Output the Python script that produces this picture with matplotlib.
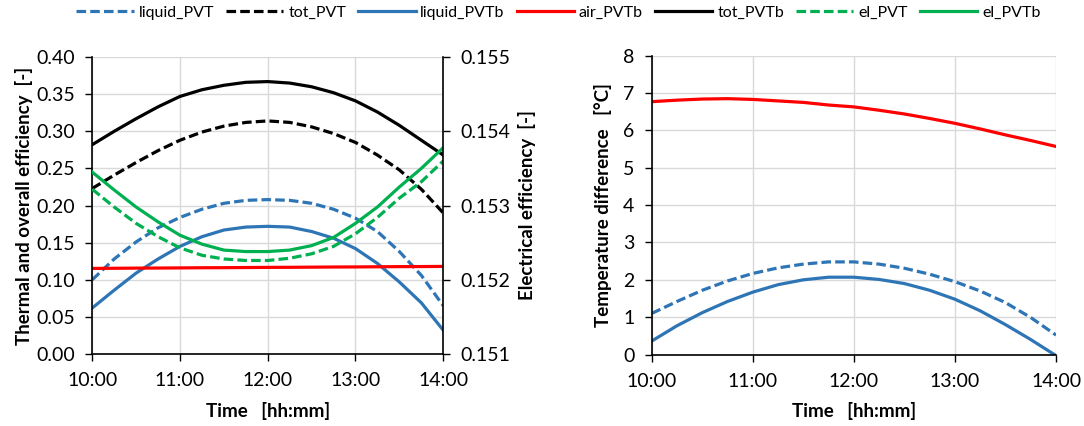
import numpy as np
import matplotlib.pyplot as plt
from matplotlib.ticker import FuncFormatter, MultipleLocator

plt.rcParams['font.family'] = ['Lato', 'DejaVu Sans']

# time in hours, every 15 min
hours = [10.0, 10.25, 10.5, 10.75, 11.0, 11.25, 11.5, 11.75, 12.0,
         12.25, 12.5, 12.75, 13.0, 13.25, 13.5, 13.75, 14.0]

# left panel, thermal / overall efficiency [-]
liquid_pvt = [0.100, 0.128, 0.151, 0.170, 0.184, 0.195, 0.203, 0.207, 0.208,
              0.207, 0.203, 0.195, 0.183, 0.165, 0.138, 0.106, 0.065]
tot_pvt = [0.223, 0.241, 0.258, 0.274, 0.288, 0.299, 0.307, 0.312, 0.314,
           0.312, 0.306, 0.297, 0.285, 0.268, 0.248, 0.222, 0.190]
liquid_pvtb = [0.062, 0.086, 0.109, 0.128, 0.145, 0.158, 0.167, 0.171, 0.172,
               0.171, 0.165, 0.156, 0.142, 0.122, 0.097, 0.069, 0.032]
air_pvtb = [0.1153, 0.1155, 0.1157, 0.1158, 0.1160, 0.1162, 0.1163, 0.1165, 0.1167,
            0.1168, 0.1170, 0.1172, 0.1173, 0.1175, 0.1177, 0.1178, 0.1180]
tot_pvtb = [0.282, 0.300, 0.317, 0.333, 0.347, 0.356, 0.362, 0.366, 0.367,
            0.365, 0.360, 0.352, 0.341, 0.326, 0.308, 0.288, 0.268]

# left panel, electrical efficiency [-]
el_pvt = [0.15322, 0.15298, 0.15276, 0.15258, 0.15243, 0.15233, 0.15228, 0.15226, 0.15226,
          0.15229, 0.15235, 0.15245, 0.15262, 0.15284, 0.15310, 0.15332, 0.15360]
el_pvtb = [0.15345, 0.15321, 0.15298, 0.15278, 0.15260, 0.15248, 0.15240, 0.15238, 0.15238,
           0.15240, 0.15246, 0.15257, 0.15276, 0.15298, 0.15325, 0.15350, 0.15378]

# right panel, temperature difference [°C]
dt_air_pvtb = [6.77, 6.81, 6.84, 6.85, 6.83, 6.79, 6.75, 6.68, 6.63,
               6.54, 6.44, 6.32, 6.19, 6.04, 5.88, 5.73, 5.57]
dt_liquid_pvt = [1.10, 1.42, 1.72, 1.97, 2.17, 2.32, 2.42, 2.48, 2.48,
                 2.42, 2.31, 2.15, 1.95, 1.70, 1.39, 0.99, 0.52]
dt_liquid_pvtb = [0.36, 0.77, 1.12, 1.42, 1.67, 1.87, 2.00, 2.07, 2.07,
                  2.01, 1.90, 1.72, 1.48, 1.17, 0.80, 0.40, -0.03]

BLUE = '#2E75B6'
RED = '#FF0000'
GREEN = '#00B050'
GRID = '#D9D9D9'
DASH = (0, (3.0, 1.3))
TICK_FS = 14
LABEL_FS = 13.5

def hhmm(x, _):
    return f'{int(round(x))}:00'

def style(ax):
    ax.set_xlim(10, 14)
    ax.xaxis.set_major_locator(MultipleLocator(1))
    ax.xaxis.set_major_formatter(FuncFormatter(hhmm))
    ax.grid(True, color=GRID, lw=1.0)
    ax.set_axisbelow(True)
    for s in ('top', 'right'):
        ax.spines[s].set_visible(False)
    for s in ('left', 'bottom'):
        ax.spines[s].set_linewidth(1.2)
    ax.tick_params(direction='out', length=5, width=1.0, labelsize=TICK_FS, pad=7.5)
    ax.tick_params(axis='x', pad=8)
    ax.set_xlabel('Time   [hh:mm]', fontsize=LABEL_FS, fontweight='bold', labelpad=9)

fig = plt.figure(figsize=(10.84, 4.26), dpi=100)
ax1 = fig.add_axes([0.0851, 0.169, 0.3238, 0.697])
ax2 = ax1.twinx()
ax3 = fig.add_axes([0.6012, 0.1678, 0.373, 0.7014])

lw = 2.3
l1, = ax1.plot(hours, liquid_pvt, color=BLUE, lw=lw, ls=DASH, label='liquid_PVT')
l2, = ax1.plot(hours, tot_pvt, color='black', lw=lw, ls=DASH, label='tot_PVT')
l3, = ax1.plot(hours, liquid_pvtb, color=BLUE, lw=lw, label='liquid_PVTb')
l4, = ax1.plot(hours, air_pvtb, color=RED, lw=lw, label='air_PVTb')
l5, = ax1.plot(hours, tot_pvtb, color='black', lw=lw, label='tot_PVTb')
l6, = ax2.plot(hours, el_pvt, color=GREEN, lw=lw, ls=DASH, label='el_PVT')
l7, = ax2.plot(hours, el_pvtb, color=GREEN, lw=lw, label='el_PVTb')

style(ax1)
ax1.set_ylim(0, 0.40)
ax1.yaxis.set_major_locator(MultipleLocator(0.05))
ax1.yaxis.set_major_formatter(FuncFormatter(lambda y, _: f'{y:.2f}'))
ax1.set_ylabel('Thermal and overall efficiency  [-]', fontsize=LABEL_FS,
               fontweight='bold', labelpad=2)

ax2.set_ylim(0.151, 0.155)
ax2.yaxis.set_major_locator(MultipleLocator(0.001))
ax2.yaxis.set_major_formatter(FuncFormatter(lambda y, _: f'{y:.3f}'))
for s in ('top', 'left', 'bottom'):
    ax2.spines[s].set_visible(False)
ax2.spines['right'].set_linewidth(1.2)
ax2.tick_params(direction='out', length=5, width=1.0, labelsize=TICK_FS, pad=7.5)
ax2.set_ylabel('Electrical efficiency  [-]', fontsize=LABEL_FS, fontweight='bold', labelpad=5)

ax3.plot(hours, dt_air_pvtb, color=RED, lw=lw)
ax3.plot(hours, dt_liquid_pvt, color=BLUE, lw=lw, ls=DASH)
ax3.plot(hours, dt_liquid_pvtb, color=BLUE, lw=lw)
style(ax3)
ax3.set_ylim(0, 8)
ax3.yaxis.set_major_locator(MultipleLocator(1))
ax3.set_ylabel('Temperature difference   [°C]', fontsize=LABEL_FS, fontweight='bold',
               labelpad=8)

fig.legend(handles=[l1, l2, l3, l4, l5, l6, l7], loc='upper center',
           bbox_to_anchor=(0.515, 1.02), ncol=7, frameon=False, fontsize=11.5,
           handlelength=3.6, columnspacing=0.75, handletextpad=0.3)

fig.savefig('out.png', dpi=100)
